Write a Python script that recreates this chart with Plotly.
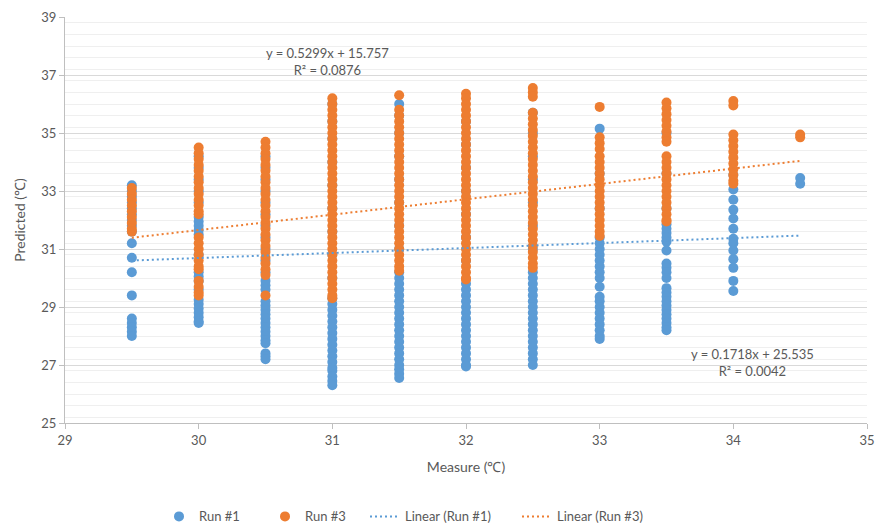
import plotly.graph_objects as go

# Measured temperatures (x) and predicted readings for each run
measure = [29.5, 30.0, 30.5, 31.0, 31.5, 32.0, 32.5, 33.0, 33.5, 34.0, 34.5]

run1_predicted = [
    [33.2, 33.0, 32.8, 32.6, 32.4, 32.2, 32.0, 31.8, 31.6, 31.2, 30.7, 30.2, 29.4,
     28.6, 28.45, 28.3, 28.15, 28.0],
    [34.2, 33.8, 33.4, 33.0, 32.6, 32.1, 31.95, 31.8, 31.65, 31.5, 30.8, 30.2, 30.05,
     29.9, 29.6, 29.25, 29.1, 28.95, 28.8, 28.65, 28.5, 28.45],
    [34.2, 33.8, 33.4, 33.0, 32.6, 32.2, 31.8, 31.4, 31.0, 30.6, 30.2, 29.9, 29.75,
     29.6, 29.2, 29.05, 28.9, 28.75, 28.6, 28.45, 28.3, 28.15, 28.0, 27.85, 27.75,
     27.4, 27.3, 27.2],
    [36.0, 35.4, 34.8, 34.0, 33.2, 32.4, 31.6, 30.8, 30.0, 29.3, 29.1, 28.9, 28.7,
     28.5, 28.3, 28.1, 27.9, 27.7, 27.5, 27.3, 27.1, 26.9, 26.8, 26.6, 26.45, 26.3],
    [36.0, 35.6, 35.0, 34.2, 33.4, 32.6, 31.8, 31.0, 30.2, 30.0, 29.8, 29.6, 29.4,
     29.2, 29.0, 28.8, 28.6, 28.4, 28.2, 28.0, 27.8, 27.6, 27.4, 27.2, 27.0, 26.85,
     26.7, 26.55],
    [35.4, 34.6, 33.8, 33.0, 32.2, 31.4, 30.6, 29.8, 29.6, 29.4, 29.2, 29.0, 28.8,
     28.6, 28.4, 28.2, 28.0, 27.8, 27.6, 27.4, 27.2, 27.0, 26.95],
    [35.7, 35.0, 34.2, 33.4, 32.6, 31.8, 31.0, 30.2, 30.0, 29.8, 29.6, 29.4, 29.2,
     29.0, 28.8, 28.6, 28.4, 28.2, 28.0, 27.8, 27.6, 27.4, 27.2, 27.0],
    [35.15, 33.6, 32.4, 31.4, 31.2, 31.0, 30.8, 30.6, 30.4, 30.2, 30.0, 29.7, 29.35,
     29.2, 29.0, 28.8, 28.6, 28.4, 28.2, 28.0, 27.9],
    [35.0, 33.6, 32.4, 31.85, 31.7, 31.55, 31.4, 31.25, 30.95, 30.5, 30.35, 30.2,
     30.0, 29.65, 29.5, 29.35, 29.2, 29.05, 28.9, 28.75, 28.6, 28.45, 28.3, 28.2],
    [33.55, 33.05, 32.7, 32.35, 32.05, 31.7, 31.35, 31.2, 30.95, 30.65, 30.35, 29.9,
     29.55],
    [33.45, 33.25],
]

run3_predicted = [
    [33.1, 32.9, 32.7, 32.5, 32.3, 32.1, 31.9, 31.7, 31.6],
    [34.5, 34.3, 34.1, 33.9, 33.7, 33.5, 33.3, 33.1, 32.9, 32.7, 32.5, 32.3, 32.2,
     31.4, 31.2, 31.0, 30.8, 30.6, 30.4, 30.3, 29.9, 29.7, 29.5, 29.4],
    [34.7, 34.5, 34.3, 34.1, 33.9, 33.7, 33.5, 33.3, 33.1, 32.9, 32.7, 32.5, 32.3,
     32.1, 31.9, 31.7, 31.5, 31.3, 31.1, 30.9, 30.7, 30.5, 30.3, 30.1, 29.4],
    [36.2, 36.0, 35.8, 35.6, 35.4, 35.2, 35.0, 34.8, 34.6, 34.4, 34.2, 34.0, 33.8,
     33.6, 33.4, 33.2, 33.0, 32.8, 32.6, 32.4, 32.2, 32.0, 31.8, 31.6, 31.4, 31.2,
     31.0, 30.8, 30.6, 30.4, 30.2, 30.0, 29.8, 29.6, 29.4, 29.3],
    [36.3, 35.8, 35.6, 35.4, 35.2, 35.0, 34.8, 34.6, 34.4, 34.2, 34.0, 33.8, 33.6,
     33.4, 33.2, 33.0, 32.8, 32.6, 32.4, 32.2, 32.0, 31.8, 31.6, 31.4, 31.2, 31.0,
     30.8, 30.6, 30.4, 30.25],
    [36.35, 36.2, 36.0, 35.8, 35.6, 35.4, 35.2, 35.0, 34.8, 34.6, 34.4, 34.2, 34.0,
     33.8, 33.6, 33.4, 33.2, 33.0, 32.8, 32.6, 32.4, 32.2, 32.0, 31.8, 31.6, 31.4,
     31.2, 31.0, 30.8, 30.6, 30.4, 30.2, 30.0, 29.95],
    [36.55, 36.4, 36.25, 35.7, 35.5, 35.3, 35.1, 34.9, 34.7, 34.5, 34.3, 34.1, 33.9,
     33.7, 33.5, 33.3, 33.1, 32.9, 32.7, 32.5, 32.3, 32.1, 31.9, 31.7, 31.5, 31.3,
     31.1, 30.9, 30.7, 30.5, 30.35],
    [35.9, 34.85, 34.65, 34.45, 34.2, 34.0, 33.8, 33.6, 33.4, 33.2, 33.0, 32.8, 32.6,
     32.4, 32.2, 32.0, 31.8, 31.6, 31.45],
    [36.05, 35.85, 35.65, 35.45, 35.25, 35.05, 34.85, 34.7, 34.2, 34.0, 33.8, 33.6,
     33.4, 33.2, 33.0, 32.8, 32.6, 32.4, 32.2, 32.0, 31.95],
    [36.1, 35.95, 34.95, 34.75, 34.55, 34.35, 34.15, 33.95, 33.75, 33.55, 33.35,
     33.25],
    [34.95, 34.85],
]

# Linear trendline coefficients (slope, intercept) and R² per run
trend_run1 = [0.1718, 25.535, 0.0042]
trend_run3 = [0.5299, 15.757, 0.0876]

BLUE = "#5B9BD5"
ORANGE = "#ED7D31"
TEXT = "#595959"
FONT = "Lato"


def flatten(columns):
    xs, ys = [], []
    for x, vals in zip(measure, columns):
        xs.extend([x] * len(vals))
        ys.extend(vals)
    return xs, ys


x1, y1 = flatten(run1_predicted)
x3, y3 = flatten(run3_predicted)

x_fit = [min(measure), max(measure)]
fit1 = [trend_run1[0] * x + trend_run1[1] for x in x_fit]
fit3 = [trend_run3[0] * x + trend_run3[1] for x in x_fit]

fig = go.Figure()
fig.add_trace(go.Scatter(x=x1, y=y1, mode="markers", name="Run #1",
                         marker=dict(color=BLUE, size=10), legend="legend"))
fig.add_trace(go.Scatter(x=x3, y=y3, mode="markers", name="Run #3",
                         marker=dict(color=ORANGE, size=10), legend="legend2"))
fig.add_trace(go.Scatter(x=x_fit, y=fit1, mode="lines", name="Linear (Run #1)",
                         line=dict(color=BLUE, width=2, dash="2px,3px"),
                         legend="legend3"))
fig.add_trace(go.Scatter(x=x_fit, y=fit3, mode="lines", name="Linear (Run #3)",
                         line=dict(color=ORANGE, width=2, dash="2px,3px"),
                         legend="legend4"))
fig.update_traces(showlegend=True)


def eq_text(t):
    return f"y = {t[0]:.4f}x + {t[1]:.3f}<br>R² = {t[2]:.4f}"


fig.add_annotation(x=30.966, y=37.47, xref="x", yref="y", text=eq_text(trend_run3),
                   showarrow=False, font=dict(family=FONT, size=13, color=TEXT))
fig.add_annotation(x=34.146, y=27.08, xref="x", yref="y", text=eq_text(trend_run1),
                   showarrow=False, font=dict(family=FONT, size=13, color=TEXT))

legend_common = dict(orientation="h", xref="container", yref="container",
                     yanchor="middle", y=0.02, bgcolor="rgba(0,0,0,0)",
                     font=dict(family=FONT, size=13, color=TEXT))

fig.update_layout(
    width=876, height=527,
    showlegend=True,
    margin=dict(l=65, r=9, t=17, b=104, autoexpand=False),
    paper_bgcolor="white", plot_bgcolor="white",
    font=dict(family=FONT, size=13, color=TEXT),
    legend=dict(x=159 / 876, **legend_common),
    legend2=dict(x=265 / 876, **legend_common),
    legend3=dict(x=365 / 876, **legend_common),
    legend4=dict(x=517 / 876, **legend_common),
    xaxis=dict(
        range=[29, 35], dtick=1, tick0=29, showgrid=False, zeroline=False,
        showline=True, linecolor="#bfbfbf", linewidth=1,
        ticks="outside", ticklen=5, tickcolor="#bfbfbf",
        tickfont=dict(family=FONT, size=13, color=TEXT),
        title=dict(text="Measure (℃)", standoff=15,
                   font=dict(family=FONT, size=14, color=TEXT)),
    ),
    yaxis=dict(
        range=[25, 39], dtick=2, tick0=25, showgrid=True, gridcolor="#d9d9d9",
        zeroline=False, showline=True, linecolor="#bfbfbf", linewidth=1,
        ticks="outside", ticklen=5, tickcolor="#bfbfbf",
        minor=dict(dtick=0.4, showgrid=True, gridcolor="#efefef", ticks=""),
        tickfont=dict(family=FONT, size=13, color=TEXT),
        title=dict(text="Predicted (℃)", standoff=12,
                   font=dict(family=FONT, size=14, color=TEXT)),
    ),
)

fig.write_html("out.html")
